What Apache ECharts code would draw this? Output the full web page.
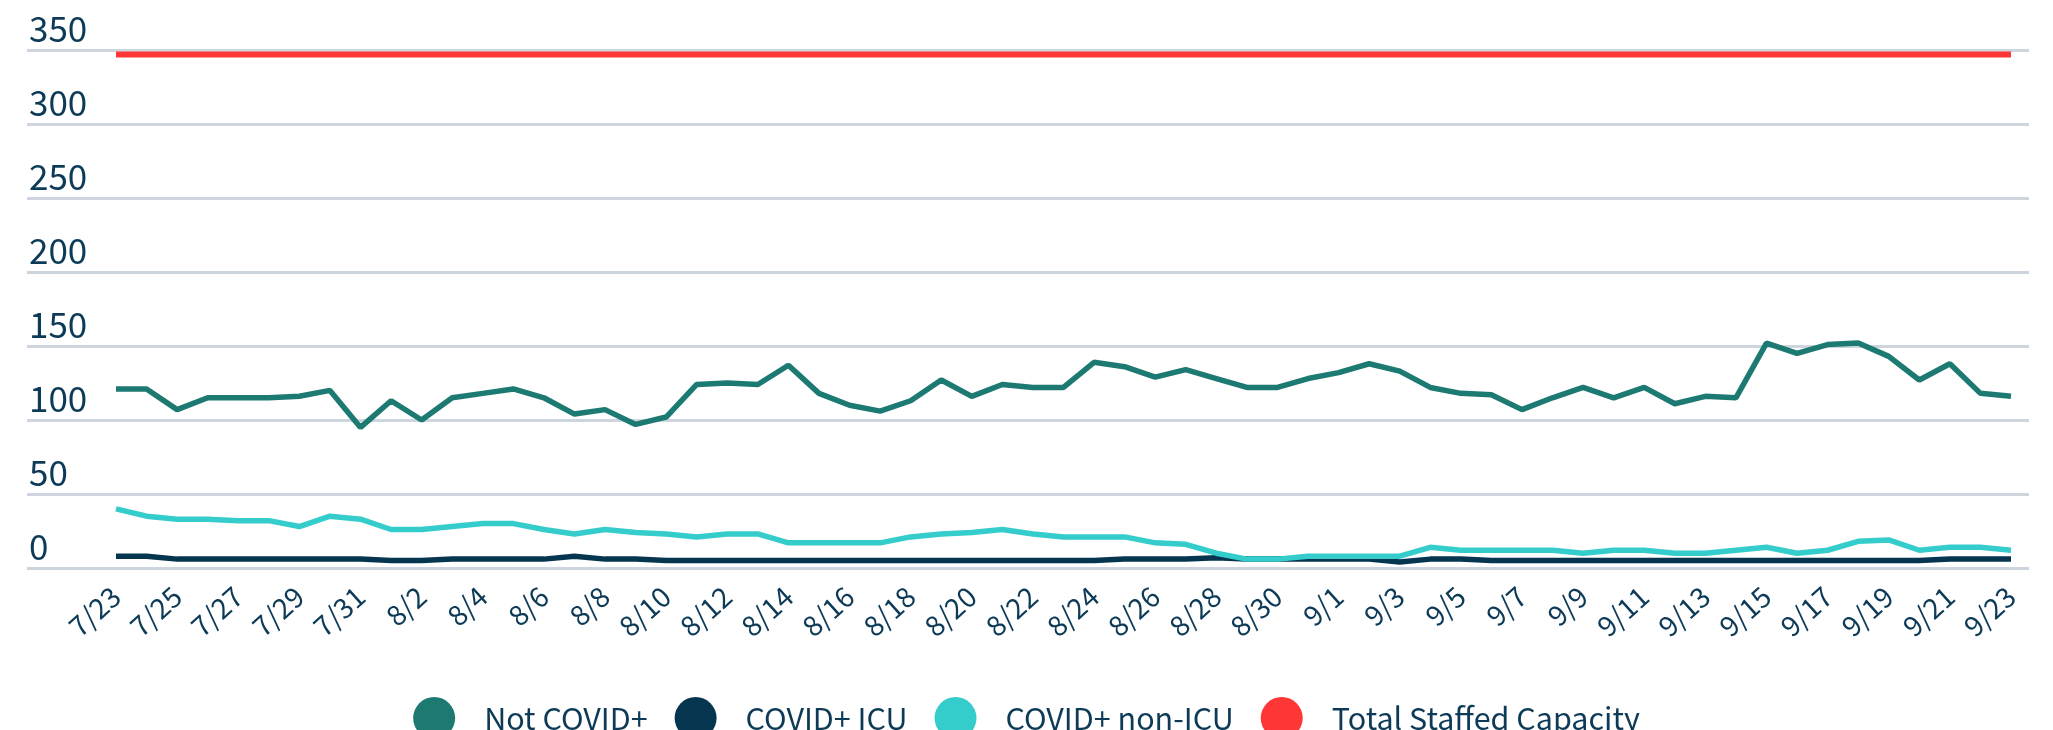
<!DOCTYPE html>
<html>
<head>
<meta charset="utf-8">
<script src="https://cdn.jsdelivr.net/npm/echarts@6/dist/echarts.min.js"></script>
<style>
html,body{margin:0;padding:0;background:#fff;}
#chart{width:2053px;height:730px;}
</style>
</head>
<body>
<div id="chart"></div>
<script>
const dates = ['7/23','7/24','7/25','7/26','7/27','7/28','7/29','7/30','7/31',
'8/1','8/2','8/3','8/4','8/5','8/6','8/7','8/8','8/9','8/10','8/11','8/12','8/13','8/14','8/15','8/16','8/17','8/18','8/19','8/20','8/21','8/22','8/23','8/24','8/25','8/26','8/27','8/28','8/29','8/30','8/31',
'9/1','9/2','9/3','9/4','9/5','9/6','9/7','9/8','9/9','9/10','9/11','9/12','9/13','9/14','9/15','9/16','9/17','9/18','9/19','9/20','9/21','9/22','9/23'];

const notCovid = [121,121,107,115,115,115,116,120,95,113,100,115,118,121,115,104,107,97,102,124,125,124,137,118,110,106,113,127,116,124,122,122,139,136,129,134,128,122,122,128,132,138,133,122,118,117,107,115,122,115,122,111,116,115,152,145,151,152,143,127,138,118,116];
const covidIcu = [8,8,6,6,6,6,6,6,6,5,5,6,6,6,6,8,6,6,5,5,5,5,5,5,5,5,5,5,5,5,5,5,5,6,6,6,7,6,6,6,6,6,4,6,6,5,5,5,5,5,5,5,5,5,5,5,5,5,5,5,6,6,6];
const covidNonIcu = [40,35,33,33,32,32,28,35,33,26,26,28,30,30,26,23,26,24,23,21,23,23,17,17,17,17,21,23,24,26,23,21,21,21,17,16,10,6,6,8,8,8,8,14,12,12,12,12,10,12,12,10,10,12,14,10,12,18,19,12,14,14,12];
const capacity = [347,347,347,347,347,347,347,347,347,347,347,347,347,347,347,347,347,347,347,347,347,347,347,347,347,347,347,347,347,347,347,347,347,347,347,347,347,347,347,347,347,347,347,347,347,347,347,347,347,347,347,347,347,347,347,347,347,347,347,347,347,347,347];

const yTicks = {min: 0, max: 350, interval: 50};
const seriesNames = ['Not COVID+','COVID+ ICU','COVID+ non-ICU','Total Staffed Capacity'];
const colors = ['#1d7a72','#06354f','#35cccc','#ff3636'];

const FONT = '"Noto Sans CJK SC", "Noto Sans", sans-serif';
const TXT = '#0c3a57';

const chart = echarts.init(document.getElementById('chart'), null, {renderer: 'canvas'});
const gridTop = 50, gridBottom = 162;
chart.setOption({
  animation: false,
  color: colors,
  grid: [
    {left: 27, right: 24, top: gridTop, bottom: gridBottom},
    {left: 116, right: 42, top: gridTop, bottom: gridBottom}
  ],
  legend: {
    data: seriesNames,
    left: 'center',
    top: 691,
    icon: 'circle',
    itemWidth: 42,
    itemHeight: 42,
    itemGap: 27,
    textStyle: {fontFamily: FONT, fontSize: 30.5, lineHeight: 34, color: TXT, padding: [0,0,10,24]}
  },
  xAxis: [
    {gridIndex: 0, type: 'value', min: 0, max: 1, show: false},
    {gridIndex: 1, type: 'category', data: dates, boundaryGap: false,
     axisLine: {show: false}, axisTick: {show: false}, splitLine: {show: false},
     axisLabel: {interval: 1, rotate: 42, margin: 24, fontFamily: FONT, fontSize: 28, color: TXT}}
  ],
  yAxis: [
    {gridIndex: 0, type: 'value', min: yTicks.min, max: yTicks.max, interval: yTicks.interval,
     axisLine: {show: false}, axisTick: {show: false},
     splitLine: {lineStyle: {color: '#cdd6de', width: 3}},
     axisLabel: {inside: true, margin: 2, verticalAlign: 'bottom', padding: [0,0,4,0],
       fontFamily: FONT, fontSize: 35, color: TXT}},
    {gridIndex: 1, type: 'value', min: yTicks.min, max: yTicks.max, interval: yTicks.interval, show: false,
     splitLine: {show: false}}
  ],
  series: [
    {name: seriesNames[0], type: 'line', xAxisIndex: 1, yAxisIndex: 1, data: notCovid, symbol: 'none', lineStyle: {width: 5.5}},
    {name: seriesNames[1], type: 'line', xAxisIndex: 1, yAxisIndex: 1, data: covidIcu, symbol: 'none', lineStyle: {width: 5.5}},
    {name: seriesNames[2], type: 'line', xAxisIndex: 1, yAxisIndex: 1, data: covidNonIcu, symbol: 'none', lineStyle: {width: 5.5}},
    {name: seriesNames[3], type: 'line', xAxisIndex: 1, yAxisIndex: 1, data: capacity, symbol: 'none', lineStyle: {width: 6}}
  ]
});
</script>
</body>
</html>
